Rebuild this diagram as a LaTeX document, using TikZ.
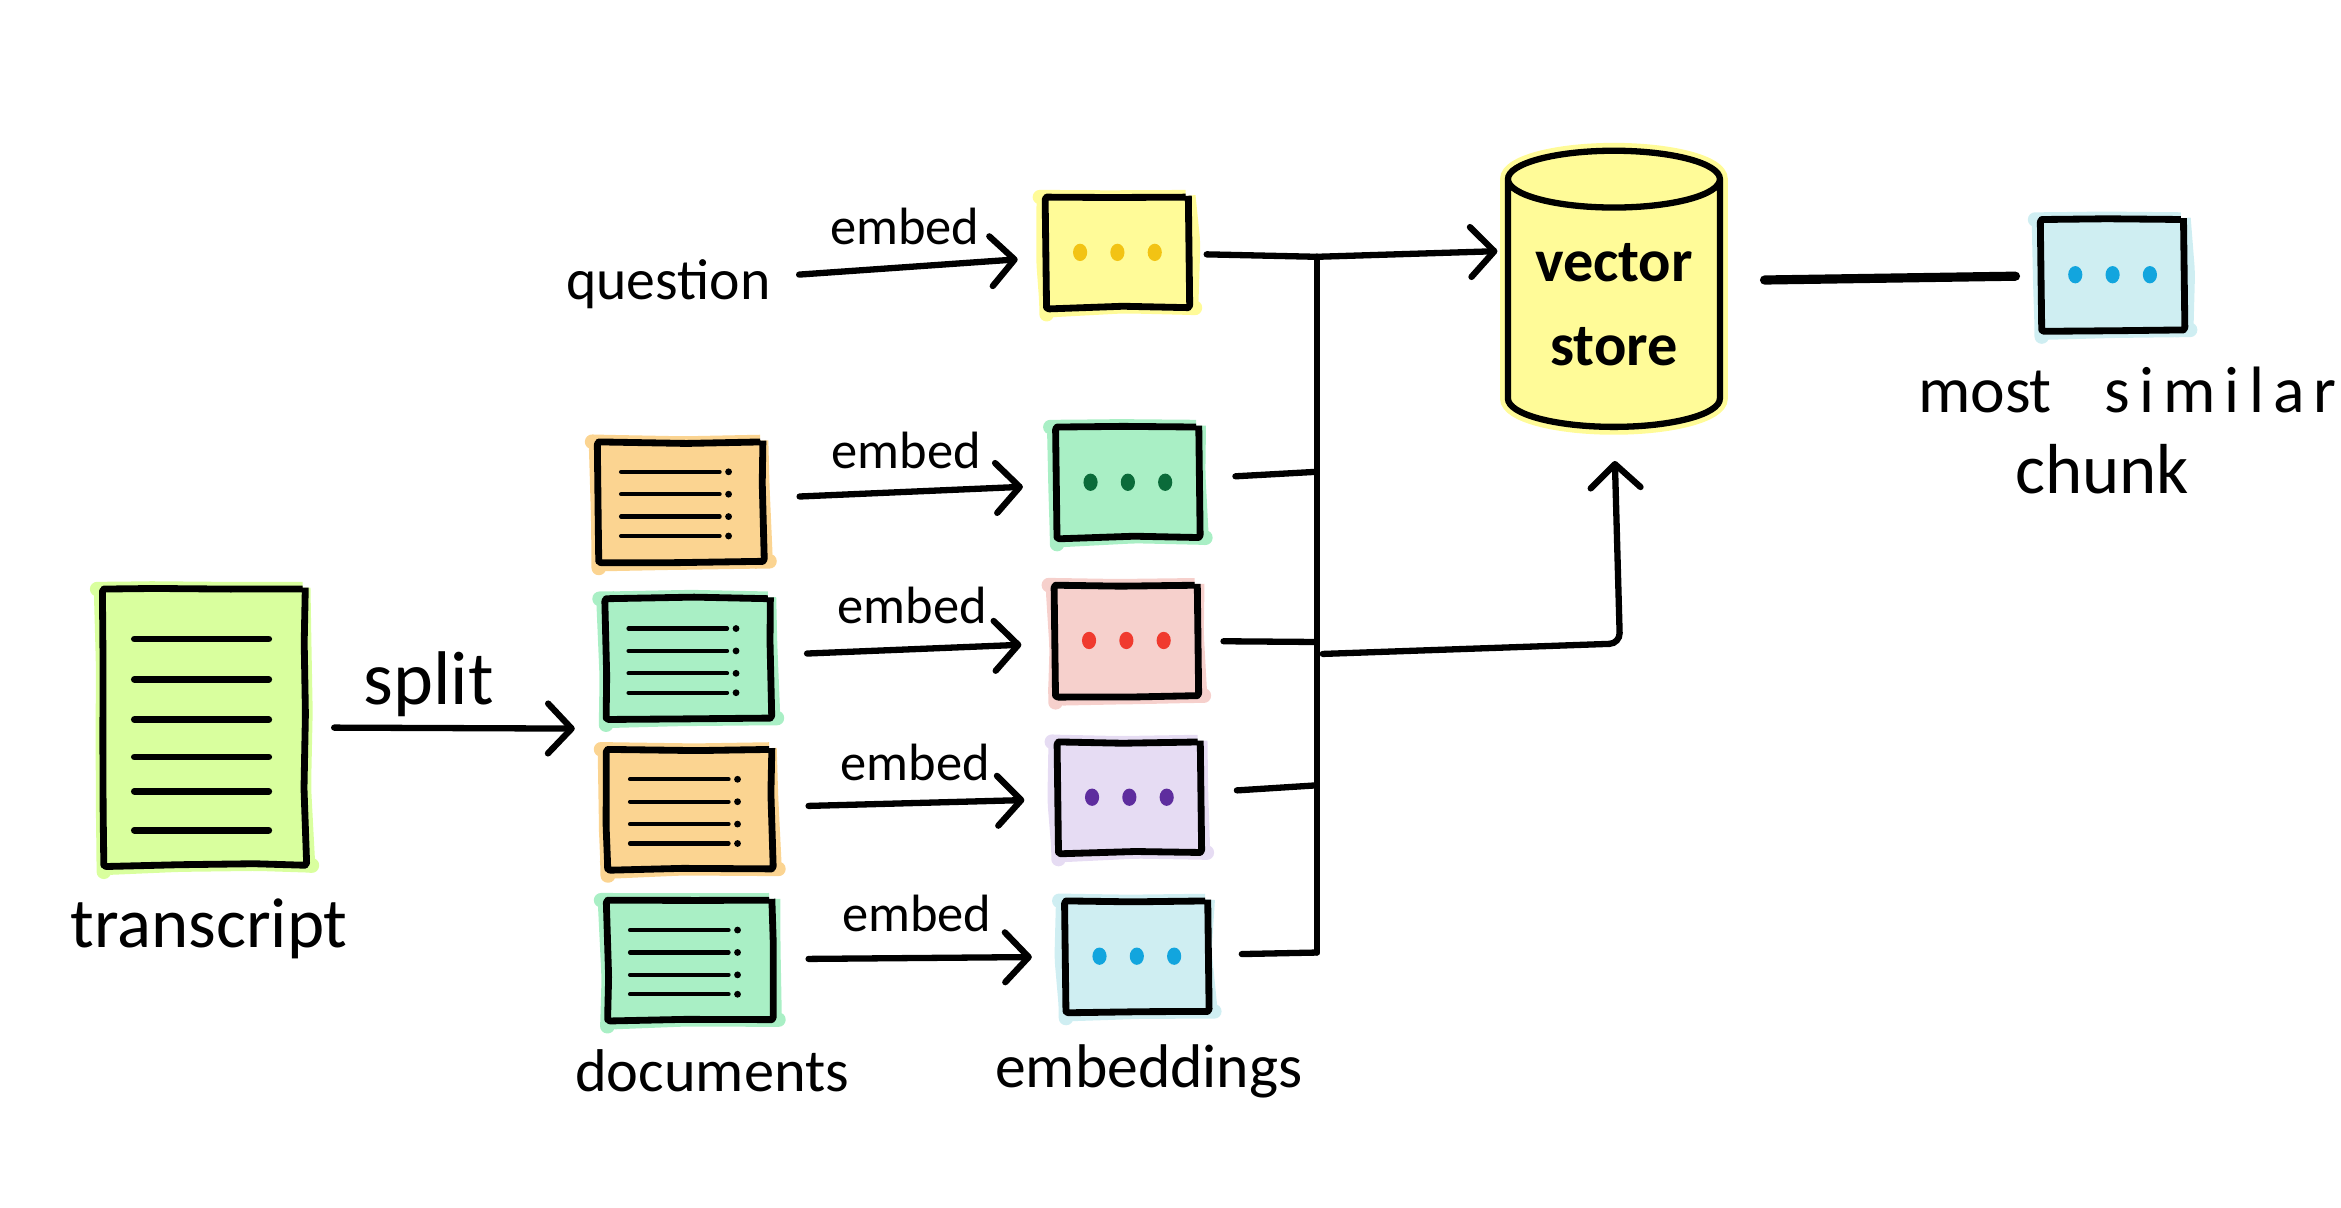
\documentclass[tikz,border=0pt]{standalone}
\usepackage{fontspec}
\setmainfont{Carlito}
\usetikzlibrary{arrows.meta,positioning,shapes.geometric,decorations.pathmorphing}

\definecolor{limefill}{HTML}{D9FF9E}
\definecolor{peachfill}{HTML}{FBD491}
\definecolor{mintfill}{HTML}{A9EFC5}
\definecolor{sunfill}{HTML}{FFFB98}
\definecolor{rosefill}{HTML}{F6D0CC}
\definecolor{lilacfill}{HTML}{E6DCF3}
\definecolor{skyfill}{HTML}{CFEEF2}
\definecolor{sundot}{HTML}{F2C314}
\definecolor{mintdot}{HTML}{0B6B3A}
\definecolor{rosedot}{HTML}{F03A2E}
\definecolor{lilacdot}{HTML}{5E2D9E}
\definecolor{skydot}{HTML}{12A5DE}

\begin{document}
\pgfmathsetseed{11}
\begin{tikzpicture}[
    x=0.02cm, y=-0.02cm,
    node distance=5mm,
    sheet/.style={draw, fill=#1, line width=2.6pt, line join=round, outer sep=0pt, inner sep=0pt,
      rounded corners=1pt, decorate, decoration={random steps, segment length=28pt, amplitude=0.7pt},
      preaction={draw=#1, line width=5.5pt, line join=round, rounded corners=3pt, decorate,
        decoration={random steps, segment length=22pt, amplitude=1.8pt}}},
    doc/.style={sheet=#1, minimum width=22mm, minimum height=16mm},
    emb/.style={sheet=#1, minimum width=19mm, minimum height=14.8mm},
    hand/.style={font=\fontsize{#1}{#1}\selectfont, inner sep=0pt, outer sep=0pt},
    arr/.style={-{Straight Barb[length=9pt,width=19pt,round]}, line width=2.4pt, line cap=round, shorten <=14pt, shorten >=13pt},
    stub/.style={line width=2.4pt, line cap=round},
    txtline/.style={line width=1.6pt, line cap=round}
  ]
    \useasboundingbox (0,0) rectangle (1568,809);

    % left column
    \node[sheet=limefill, minimum width=27mm, minimum height=37mm] (transcript) at (137,487) {};
    \node[hand=27, below=4.5mm of transcript, xshift=0.6mm] (transcriptlabel) {transcript};

    \node[doc=peachfill] (doca) at (456,336) {};
    \node[doc=mintfill, below=5mm of doca, xshift=1mm] (docb) {};
    \node[doc=peachfill, below=4.2mm of docb, xshift=0.2mm] (docc) {};
    \node[doc=mintfill, below=4.2mm of docc] (docd) {};
    \node[hand=23, below=4mm of docd, xshift=3mm] (doclabel) {documents};

    % embeddings
    \node[emb=mintfill, right=39.4mm of doca, yshift=2.6mm] (emba) {};
    \node[emb=rosefill, right=38.2mm of docb, yshift=2.4mm] (embb) {};
    \node[emb=lilacfill, right=38.4mm of docc, yshift=1.6mm] (embc) {};
    \node[emb=skyfill, right=39.4mm of docd, yshift=0.5mm] (embd) {};
    \node[emb=sunfill, above=16mm of emba, xshift=-1.4mm] (embq) {};
    \node[hand=22, left=37mm of embq, yshift=-4.2mm] (question) {question};
    \node[hand=23.5, below=4.4mm of embd, xshift=1.6mm] (emblabel) {embeddings};

    % store and result
    \node[cylinder, shape border rotate=90, aspect=0.36, draw, fill=sunfill, line width=2.4pt,
      minimum width=28.4mm, minimum height=37mm, outer sep=0pt, inner sep=0pt,
      align=center, font=\fontsize{23}{32}\selectfont\bfseries,
      preaction={draw=sunfill, line width=6pt}] (store) at (1081,204) {vector\\store};
    \node[emb=skyfill] (result) at (1415,184) {};
    \node[hand=25, below=5mm of result, xshift=2mm] (resultlabel) {most\hspace{.8em}{\addfontfeature{LetterSpace=14}similar}};
    \node[hand=27, below=4.2mm of resultlabel, xshift=-3.4mm] (chunklabel) {chunk};

    % lines of text on the sheets
    \foreach \yy in {428,455,482,507,530,556}
      \draw[line width=2.6pt, line cap=round] (90,\yy) -- (180,\yy);
    \foreach \nm in {doca,docb,docc,docd}
      \foreach \dy in {-20,-5,10,23} {
        \draw[txtline] ([shift={(-40,\dy)}]\nm.center) -- ([shift={(26,\dy)}]\nm.center);
        \fill ([shift={(32,\dy)}]\nm.center) circle (1.3pt);
      }

    % dots on the embeddings
    \foreach \nm/\col in {embq/sundot,emba/mintdot,embb/rosedot,embc/lilacdot,embd/skydot,result/skydot}
      \foreach \dx in {-25,0,25}
        \fill[\col] ([xshift=\dx*0.2mm]\nm.center) ellipse (2.7pt and 3.3pt);

    % labels over arrows
    \node[hand=20, above=4mm of embq.west, xshift=-19mm, yshift=-3mm] (labelq) {embed};
    \node[hand=20, above=4mm of emba.west, xshift=-20.2mm, yshift=-2.2mm] (labela) {embed};
    \node[hand=20, above=4mm of embb.west, xshift=-19.2mm, yshift=-1.8mm] (labelb) {embed};
    \node[hand=20, above=4mm of embc.west, xshift=-19.2mm, yshift=-1.8mm] (labelc) {embed};
    \node[hand=20, above=4mm of embd.west, xshift=-20mm, yshift=-0.8mm] (labeld) {embed};
    \node[hand=29, above=5mm of docc.west, xshift=-24mm, yshift=7.4mm] (labelsplit) {split};

    \draw[arr, shorten <=11pt, shorten >=11pt] (question) -- (embq);
    \draw[arr] (doca) -- (emba);
    \draw[arr] (docb) -- (embb);
    \draw[arr] (docc) -- (embc);
    \draw[arr] (docd) -- (embd);
    \coordinate (splitin) at (385,488);
    \draw[arr, shorten >=0pt, shorten <=11pt] (transcript) -- (splitin);

    % bus
    \coordinate (busq) at (882,172);
    \coordinate (busa) at (882,316);
    \coordinate (busb) at (882,430);
    \coordinate (busc) at (882,526);
    \coordinate (busd) at (882,638);
    \coordinate (busout) at (886,438);
    \coordinate (elbow) at (1085,431);
    \draw[stub] (busq) -- (busd);
    \draw[stub, shorten <=7pt] (embq) -- (busq);
    \draw[stub, shorten <=14pt] (emba) -- (busa);
    \draw[stub, shorten <=10pt] (embb) -- (busb);
    \draw[stub, shorten <=14pt] (embc) -- (busc);
    \draw[stub, shorten <=13pt] (embd) -- (busd);
    \draw[arr, shorten <=0pt, shorten >=4pt] (busq) -- ([yshift=7.2mm]store.west);
    \draw[arr, rounded corners=4pt, shorten <=0pt] (busout) -- (elbow) -- (store.south);
    \draw[line width=3.5pt, line cap=round, shorten <=17pt, shorten >=10pt] ([yshift=3.2mm]store.east) -- (result);
  \end{tikzpicture}
\end{document}
